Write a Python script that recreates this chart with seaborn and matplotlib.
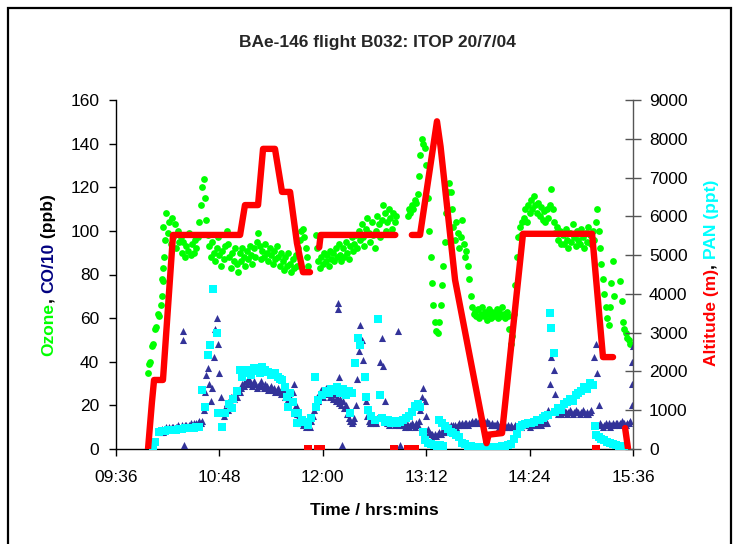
import numpy as np
import pandas as pd
import matplotlib
matplotlib.use("Agg")
import matplotlib.pyplot as plt
from matplotlib.patches import Rectangle
from matplotlib.ticker import FixedLocator, FuncFormatter
from matplotlib.transforms import IdentityTransform
import seaborn as sns

# ---------------------------------------------------------------------------
# Flight B032 data. Times are minutes after 09:36 (start of the time axis).
# ---------------------------------------------------------------------------
T0 = 9 * 60 + 36

# Ozone (ppb), 1-minute samples starting at minute 22; None = no data
OZONE_FIRST_MIN = 22
ozone_ppb = [
    35, 39, 40, 47, 48, 55, 56, 62, 61, 66,
    78,
    102, 96, 108, 99, 104, 94, 106, 97, 103, 92, 100, 95,
    97, 90, 95, 88, 93, 91, 99, 89, 94, 90, 96,
    92, 97, 104, 112, 120, 124, 115, 105,
    98, 93, 88, 95, 90, 86, 92, 97, 89, 84, 91, 87, 93, 100, 94, 88, 83, 90, 86, 92, 85, 81,
    90, 86, 92, 88, 84, 91, 87, 93, 89, 85, 92, 88, 95, 99, 93, 87, 91, 88, 94, 90, 86, 92,
    89, 85, 91, 87, 93, 88, 84, 90, 86, 82, 88, 84, 90, 85, 81, 87, 83, 89, 84, 92,
    96, 100, 101, 97, 92, 88, 84,
    None, None, None, None,
    98, 92, 86, 83, 88, 85, 90, 86, 89, 84, 91, 87, 90, 86, 92, 88, 94, 89, 86, 92, 88, 95, 90, 87, 93, 97, 91,
    94, 98, 92, 100, 96, 103, 97, 93, 101, 106, 99, 95, 104, 98, 92, 100, 107, 103, 97, 105,
    112, 108, 100, 104, 110, 106, 101, 108, 104, 107,
    None, None, None, None, None, None, None,
    107, 110, 108, 112, 110, 114, 113, 117, 125, 135, 142,
    140, 138, 130, 115, 100, 88, 76, 66, 58, 54, 53, 58, 66, 75, 84, 95, 108, 118, 122,
    118, 110, 102, 96, 104, 99, 92, 97, 105, 94, 88, 91, 84,
    78, 70, 65, 62,
    63, 61, 64, 60, 62, 65, 61, 63, 59, 62, 64, 60, 63, 61, 62, 64, 60, 63, 61, 65, 62, 60, 63, 61,
    55, 48, 52,
    62, 75, 88, 97, 102, 98, 104,
    106, 110, 104, 112, 108, 114, 110, 116, 112, 108, 113, 107, 111, 105, 109, 104, 110, 106, 112, 119, 110, 104, 99, 102,
    96, 100, 94,
    98, 94, 101, 96, 92, 99, 95, 103, 97, 93, 100, 96, 94, 101, 97, 92, 99, 95, 102, 98, 94, 100, 96,
    104, 110, 100,
    92, 85, 78, 71, 65, 60, 57, 65, 76, 86, 70,
    None, None, None,
    77, 68, 58, 55, 53, 51, 50, 48,
]
# extra fast ozone samples during the first climb
ozone_extra_min = [32.3, 32.6, 33.0, 33.3]
ozone_extra_ppb = [70, 77, 83, 88]

# CO/10 (ppb), 1-minute samples starting at minute 31
CO_FIRST_MIN = 31
co10_ppb = [
    8, 9, 8, 9, 10, 9, 10, 9, 10, 10, 9, 10, 11, 10, 10, 11, 10, 11, 11, 10, 11, 12, 11, 12, 11, 12, 12, 13, 12, 13,
    18, 26, 34, 37, 30, 22, 28, 42, 55, 60, 48, 35, 24,
    17, 15, 19, 21, 18, 22, 24, 20, 23, 26, 24, 27, 26,
    28, 30, 29, 31, 30, 32, 31, 30, 29, 31, 30, 28, 29, 30, 31, 29, 28, 30, 29, 27, 28, 29, 27, 28, 26, 27, 28,
    26, 25, 27, 26, 24, 25, 23,
    24, 22, 26, 30, 20, 16, 14, 12,
    13, 11, 12, 10, 11, 12, 10, 13, 15,
    18, 21, 24, 22, 25, 27, 24, 26, 28, 25, 27, 24, 26, 23, 25, 22, 24, 21, 23, 20, 22, 19, 20,
    16, 14, 13, 12, 13, 14,
    20, 32, 45, 57, 50, 41, 33, 22, 15,
    13, 12, 14, 12, 13, 12, 14,
    25, 40, 51, 38, 22,
    13, 12, 11, 12, 13, 12, 11, 12, 12, 11, 12, 11,
    11, 10, 12, 11, 10, 11, 12, 11, 10, 12, 11, 13,
    18, 24, 28, 22, 15,
    9, 8, 7, 7, 6, 7, 6, 7, 8, 7, 8, 9, 8, 9,
    10, 10, 11, 10, 11, 11, 10, 11, 12, 11, 12, 11, 12, 12, 11, 12, 12, 13, 12, 13, 13, 12, 13, 13, 12,
    13, 12, 13, 12, 12, 11, 12, 11, 11, 12, 11, 10, 11, 11, 10, 11, 10, 11, 10, 11, 10, 10, 11, 10, 11,
    11, 10, 11, 12, 11, 12, 11, 10, 11, 12, 11, 12, 11, 12, 12, 11, 12, 13, 12, 12,
    18, 30, 42, 44, 36, 25, 19,
    16, 17, 16, 17, 18, 17, 16, 17, 18, 17, 16, 17, 18, 17, 17, 16, 17, 18, 17, 16, 17, 16, 17, 18,
    30, 42, 48, 35, 20,
    12, 11, 10, 11, 12, 11, 12, 10, 11, 12, 11, 12, 12, 11, 12, 13, 12, 12, 11, 12, 12, 13,
]
# isolated CO/10 samples between the minute values
co_extra_min = [46.7, 47.0, 47.4, 154.5, 154.9, 155.5, 157.4, 196.4, 197.8, 359.0, 359.3, 359.6, 359.9]
co_extra_ppb = [50, 54, 2, 64, 67, 33, 2, 54, 2, 20, 30, 40, 47]

# PAN (ppt)
pan_min = [
    25.5, 27.5, 30, 32, 34, 36, 38, 40, 42, 44, 46, 48, 50, 52, 54, 56, 58,
    59.7, 62, 64.3, 65.5, 67.8, 70.1, 71.3, 73.6, 76, 78.5, 80.5, 81.8, 84,
    86, 88, 90, 92, 94, 96, 98, 100, 102, 104, 106, 108, 110.7, 112.5, 114, 115.6,
    117.5, 119.1, 119.8, 121.5, 123, 124.5, 126, 127, 129.5, 131.5, 133.7, 136,
    138.6, 139, 140.7, 143.5, 146, 148, 150, 152, 154, 156, 158, 160, 162, 163, 164.5,
    166.4, 168.5, 169.9, 173.4, 173.8, 175.5, 177.5, 180.4, 182.5, 183.8, 185.5, 187.3,
    189.5, 191.5, 194.3,
    196, 198, 200, 202, 204, 206, 208, 210, 212, 213.8, 215.5, 217.5, 219.5, 221.5, 223.5,
    225, 225.5, 227, 227.5, 229, 231, 233, 235, 237, 239,
    241, 243, 245, 247, 249, 251, 253, 255, 257, 259, 261, 263, 265, 267, 269, 271, 273, 275, 277, 279,
    281, 283, 285, 287, 289, 291, 293, 295, 297, 299, 301, 302, 302.6, 305,
    306, 308, 310, 312, 314, 316, 318, 320, 322, 324, 326, 328, 330, 332, 333.5, 334.5,
    336, 338, 340, 342, 344, 346, 348, 350, 352, 354,
]
pan_ppt = [
    40, 170, 450, 460, 470, 480, 490, 490, 500, 510, 520, 530, 530, 540, 550, 560, 580,
    1520, 1080, 2420, 2680, 4130, 2990, 930, 570, 930, 1150, 1050, 1300, 1500,
    2040, 1850, 1950, 2050, 1900, 2100, 2000, 1950, 2120, 2040, 1980, 1900, 1960, 1850, 1800, 1780,
    1600, 1340, 1080, 1450, 1200, 930, 670, 930, 750, 700, 620, 800,
    1860, 1080, 1260, 1400, 1500, 1450, 1550, 1500, 1600, 1450, 1550, 1400, 1500, 930, 1450,
    2220, 2860, 2680, 1860, 1340, 1000, 850, 750, 3350, 1390, 800, 700,
    750, 680, 720,
    680, 700, 760, 800, 850, 950, 1100, 1150, 1080, 440, 230, 150, 120, 100, 80,
    750, 100, 680, 90, 600, 520, 450, 400, 350, 310,
    150, 120, 90, 70, 60, 50, 50, 45, 50, 45, 50, 55, 50, 60, 70, 90, 110, 140, 250, 380,
    580, 620, 640, 660, 680, 700, 740, 760, 800, 840, 880, 3500, 3120, 2470,
    950, 1050, 1000, 1150, 1200, 1300, 1250, 1400, 1450, 1500, 1600, 1550, 1700, 1650, 600, 350,
    300, 250, 220, 180, 150, 130, 110, 90, 70, 50,
]

# Altitude (m): track vertices, split into legs where the record has gaps
alt_min = [22.3, 25, 26.5, 32.7, 39.7, 86.4, 89.8, 98.9, 102.4, 110.7, 115.6, 121.2, 126, 130.2, 135.1,
           141.5, 142.5, 194.5,
           206, 211.7, 223.5, 226, 236.1, 258, 259.5, 268.8, 283.4, 331.5, 339.1, 346.1,
           354.5, 356.5]
alt_m = [0, 1200, 1780, 1780, 5520, 5520, 6290, 6290, 7740, 7740, 6630, 6630, 5310, 4560, 4560,
         5200, 5520, 5520,
         5520, 5520, 8450, 7800, 4360, 150, 370, 410, 5550, 5550, 2370, 2370,
         540, 20]
alt_leg = [1] * 15 + [2] * 3 + [3] * 12 + [4] * 2
# stray zero readings inside the gaps
alt_zero_min = [133.5, 140.5, 143, 193.5, 203, 205.5, 208, 334.5]

TITLE = "BAe-146 flight B032: ITOP 20/7/04"
X_TICKS = [0, 72, 144, 216, 288, 360]

# ---------------------------------------------------------------------------
GREEN, NAVY, MARKER_NAVY, RED, CYAN = "#00FF00", "#000080", "#333399", "#FF0000", "#00FFFF"

ozone = pd.DataFrame({
    "t": T0 + OZONE_FIRST_MIN + np.arange(len(ozone_ppb)),
    "v": pd.array(ozone_ppb, dtype="Float64"),
}).dropna()
ozone = pd.concat([ozone, pd.DataFrame({"t": T0 + np.array(ozone_extra_min), "v": ozone_extra_ppb})])
ozone["v"] = ozone["v"].astype(float)

co = pd.DataFrame({"t": T0 + CO_FIRST_MIN + np.arange(len(co10_ppb)), "v": co10_ppb})
co = pd.concat([co, pd.DataFrame({"t": T0 + np.array(co_extra_min), "v": co_extra_ppb})])

pan = pd.DataFrame({"t": T0 + np.array(pan_min), "v": pan_ppt})
alt = pd.DataFrame({"t": T0 + np.array(alt_min), "v": alt_m, "leg": alt_leg})
alt_zero = pd.DataFrame({"t": T0 + np.array(alt_zero_min), "v": 0.0})

sns.set_theme(style="white")
plt.rcParams["font.family"] = ["Liberation Sans", "DejaVu Sans"]

W, H = 739, 544
fig = plt.figure(figsize=(W / 100, H / 100), dpi=100)
fig.patch.set_facecolor("white")
ax = fig.add_axes([116 / W, 1 - 449 / H, (633 - 116) / W, 349 / H])
ax2 = ax.twinx()

sns.scatterplot(data=ozone, x="t", y="v", ax=ax, color=GREEN, marker="o", s=24,
                linewidth=0, legend=False, zorder=2)
sns.scatterplot(data=co, x="t", y="v", ax=ax, color=MARKER_NAVY, marker="^", s=26,
                linewidth=0, legend=False, zorder=3)
sns.scatterplot(data=pan, x="t", y="v", ax=ax2, color=CYAN, marker="s", s=32,
                linewidth=0, legend=False, zorder=2)
sns.lineplot(data=alt, x="t", y="v", units="leg", estimator=None, ax=ax2, color=RED,
             linewidth=4.6, sort=False, legend=False, zorder=3)
sns.scatterplot(data=alt_zero, x="t", y="v", ax=ax2, color=RED, marker="s", s=30,
                linewidth=0, legend=False, zorder=3)

ax.set_xlim(T0, T0 + 360)
ax.set_ylim(0, 160)
ax2.set_ylim(0, 9000)
ax.xaxis.set_major_locator(FixedLocator([T0 + m for m in X_TICKS]))
ax.xaxis.set_major_formatter(FuncFormatter(lambda v, p: f"{int(round(v)) // 60:02d}:{int(round(v)) % 60:02d}"))
ax.set_yticks(np.arange(0, 161, 20))
ax2.set_yticks(np.arange(0, 9001, 1000))

for a in (ax, ax2):
    a.grid(False)
    a.set_ylabel("")
    for side in a.spines:
        a.spines[side].set_visible(False)
ax.spines["left"].set_visible(True)
ax.spines["bottom"].set_visible(True)
ax2.spines["right"].set_visible(True)
ax.spines["left"].set_color("black")
ax.spines["bottom"].set_color("black")
ax2.spines["right"].set_color("#555555")
for s in (ax.spines["left"], ax.spines["bottom"], ax2.spines["right"]):
    s.set_linewidth(1.0)

ax.tick_params(axis="y", left=True, direction="out", length=5, width=1, color="black",
               labelsize=12.5, pad=7, labelcolor="black")
ax.tick_params(axis="x", bottom=True, direction="out", length=5, width=1, color="black",
               labelsize=12.5, pad=10, labelcolor="black")
ax2.tick_params(axis="y", right=True, direction="inout", length=11, width=1, color="#555555",
                labelsize=12.5, pad=6, labelcolor="black")

ax.set_xlabel("Time / hrs:mins", fontsize=12.5, fontweight="bold", labelpad=13, color="black")
fig.text(377 / W, 1 - 42 / H, TITLE, ha="center", va="center", fontsize=12.5, fontweight="bold")

# outer chart frame
fig.patches.append(Rectangle((8 / W, -0.02), (731 - 8) / W, 1.02 - 8 / H, transform=fig.transFigure,
                             fill=False, edgecolor="black", linewidth=1.6))


def colored_vertical_label(x_px, y_mid_px, parts, size):
    """Bold text reading bottom-to-top, each part in its own colour."""
    renderer = fig.canvas.get_renderer()
    ident = IdentityTransform()

    def advance(s):
        t1 = fig.text(0, 0, s + "|", fontsize=size, fontweight="bold", transform=ident)
        t2 = fig.text(0, 0, "|", fontsize=size, fontweight="bold", transform=ident)
        w = t1.get_window_extent(renderer).width - t2.get_window_extent(renderer).width
        t1.remove()
        t2.remove()
        return w

    widths = [advance(s) for s, _ in parts]
    y = (fig.bbox.height - y_mid_px) - sum(widths) / 2
    for (s, c), w in zip(parts, widths):
        fig.text(x_px, y, s, color=c, fontsize=size, fontweight="bold", rotation=90,
                 rotation_mode="anchor", ha="left", va="baseline", transform=ident)
        y += w


fig.canvas.draw()
colored_vertical_label(53, 275, [("Ozone", GREEN), (", ", "black"), ("CO/10", NAVY), (" (ppb)", "black")], 12.5)
colored_vertical_label(716, 273, [("Altitude (m)", RED), (", ", "black"), ("PAN (ppt)", CYAN)], 12.5)

fig.savefig("out.png", dpi=100, facecolor="white")
